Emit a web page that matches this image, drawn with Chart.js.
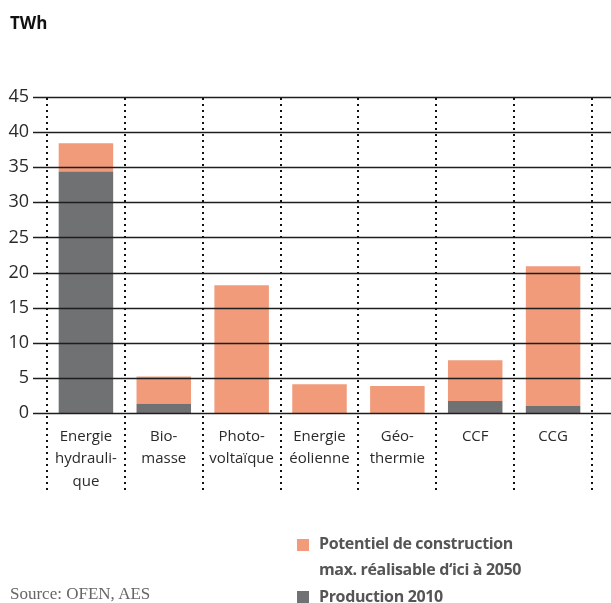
<!DOCTYPE html>
<html>
<head>
<meta charset="utf-8">
<script src="https://cdn.jsdelivr.net/npm/chart.js@4/dist/chart.umd.min.js"></script>
<style>
  body{margin:0;background:#fff;}
  #wrap{position:relative;width:611px;height:603px;}
  #chartBox{position:absolute;left:0;top:0;width:611px;height:603px;}
  .txt{position:absolute;white-space:nowrap;}
  #unit{left:10px;top:11px;font:bold 17px "Open Sans";color:#111;}
  #source{left:10px;top:584px;font:17px "Liberation Serif";color:#666;}
  .leg{left:319px;font:bold 16px "Open Sans";color:#555;letter-spacing:-0.35px;}
  .sq{position:absolute;left:297px;width:12px;height:12px;}
</style>
</head>
<body>
<div id="wrap">
  <div id="chartBox"><canvas id="myChart"></canvas></div>
  <div class="txt" id="unit">TWh</div>
  <div class="sq" style="top:539px;background:#f19b7b"></div>
  <div class="txt leg" style="top:532px">Potentiel de construction</div>
  <div class="txt leg" style="top:558px">max. réalisable d‘ici à 2050</div>
  <div class="sq" style="top:591px;background:#707173"></div>
  <div class="txt leg" style="top:585px">Production 2010</div>
  <div class="txt" id="source">Source: OFEN, AES</div>
</div>
<script>
const categories = [
  ['Energie','hydrauli-','que'],
  ['Bio-','masse'],
  ['Photo-','voltaïque'],
  ['Energie','éolienne'],
  ['Géo-','thermie'],
  'CCF',
  'CCG'
];
const production2010 = [34.4, 1.3, 0, 0, 0, 1.7, 1.0];
const potentiel2050 = [4.0, 3.9, 18.2, 4.1, 3.85, 5.8, 19.9];
const yTicks = [0, 5, 10, 15, 20, 25, 30, 35, 40, 45];

const TICK_LEN = 14;

const linesPlugin = {
  id: 'linesPlugin',
  afterDatasetsDraw(chart){
    const {ctx, chartArea, scales} = chart;
    const x = scales.x, y = scales.y;
    ctx.save();
    // horizontal rules, over the bars
    ctx.strokeStyle = '#1e1e1e';
    ctx.lineWidth = 1.4;
    yTicks.forEach(v => {
      const py = Math.round(y.getPixelForValue(v)) + 0.5;
      ctx.beginPath();
      ctx.moveTo(chartArea.left - TICK_LEN, py);
      ctx.lineTo(chart.width, py);
      ctx.stroke();
    });
    // dotted separators between categories
    const step = (x.right - x.left) / categories.length;
    ctx.strokeStyle = '#111';
    ctx.lineWidth = 2;
    ctx.setLineDash([2, 4]);
    for (let i = 0; i <= categories.length; i++){
      const px = Math.round(x.left + i * step);
      ctx.beginPath();
      ctx.moveTo(px, chartArea.top + 1);
      ctx.lineTo(px, chartArea.bottom + 77);
      ctx.stroke();
    }
    ctx.restore();
  }
};

new Chart('myChart', {
  type: 'bar',
  data: {
    labels: categories,
    datasets: [
      {label: 'Production 2010', data: production2010, backgroundColor: '#707173'},
      {label: 'Potentiel de construction max. réalisable d‘ici à 2050', data: potentiel2050, backgroundColor: '#f19b7b'}
    ]
  },
  options: {
    responsive: true,
    maintainAspectRatio: false,
    animation: false,
    categoryPercentage: 1,
    barPercentage: 0.7,
    layout: {padding: {top: 97, right: 19, left: 0, bottom: 0}},
    plugins: {legend: {display: false}, tooltip: {enabled: false}},
    scales: {
      x: {
        stacked: true,
        grid: {display: false, drawTicks: false},
        border: {display: false},
        ticks: {
          color: '#2a2a2a',
          font: {family: 'Open Sans', size: 15, lineHeight: 1.5},
          padding: 12,
          maxRotation: 0,
          autoSkip: false
        },
        afterFit(scale){ scale.height = 190; }
      },
      y: {
        stacked: true,
        min: 0,
        max: 45,
        grid: {display: false, drawTicks: false},
        border: {display: false},
        afterBuildTicks(scale){ scale.ticks = yTicks.map(v => ({value: v})); },
        ticks: {
          color: '#2a2a2a',
          font: {family: 'Open Sans', size: 18},
          padding: TICK_LEN + 4
        },
        afterFit(scale){ scale.width = 47; }
      }
    }
  },
  plugins: [linesPlugin]
});
</script>
</body>
</html>
